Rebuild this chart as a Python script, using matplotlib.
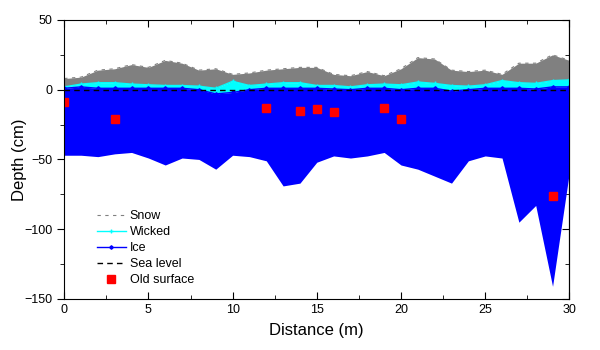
import numpy as np
import matplotlib
matplotlib.use("Agg")
import matplotlib.pyplot as plt

plt.rcParams['font.family'] = ['Liberation Sans', 'DejaVu Sans']

# distance along the transect (m)
dist = np.arange(0, 31)
# layer tops/bottoms (cm)
snow_top = [8, 9, 14, 15, 18, 16, 21, 19, 14, 15, 11, 12, 14, 15, 16, 16,
            11, 10, 13, 10, 15, 23, 22, 14, 13, 14, 11, 19, 19, 25, 21]
wicked_top = [2, 4, 5, 5, 4, 3.5, 3, 3, 2.5, 1, 6, 3, 4, 5, 5, 3,
              3, 2, 3.5, 4, 3.5, 5.5, 4.5, 3, 2.5, 3.5, 6.5, 5, 4.5, 6.5, 7]
ice_top = [1, 2, 1, 1, 1, 1, 1, 1, 0, -3, -2, 0, 1, 1, 1, 1,
           0.5, 0, 1, 1, 0, 1, 1, -1, 0, 1, 1, 1, 0.5, 2, 2]
ice_bottom = [-47, -47, -48, -46, -45, -49, -54, -49, -50, -57, -47, -48, -51, -69, -67, -52,
              -47.5, -49, -47.5, -45, -54, -57, -62, -67, -51, -47.5, -49, -95, -83, -141, -59]

# old surface markers
old_x = [0, 3, 12, 14, 15, 16, 19, 20, 29]
old_y = [-9, -21, -13, -15, -14, -16, -13, -21, -76]

fig = plt.figure(figsize=(6, 3.5), dpi=100)
ax = fig.add_axes([0.107, 0.146, 0.842, 0.797])

ax.fill_between(dist, wicked_top, snow_top, color='#808080', lw=0)
ax.fill_between(dist, ice_top, wicked_top, color='#00ffff', lw=0)
ax.fill_between(dist, ice_bottom, ice_top, color='#0000ff', lw=0)

ax.plot(dist, snow_top, color='#808080', lw=0.8, ls=(0, (3, 4)), label='Snow')
ax.plot(dist, wicked_top, color='#00ffff', lw=1, marker='+', ms=3, label='Wicked')
ax.plot(dist, ice_top, color='#0000ff', lw=1, marker='D', ms=1.8, label='Ice')
ax.axhline(0, color='black', lw=1, ls=(0, (4, 3)), label='Sea level')
ax.plot(old_x, old_y, ls='none', marker='s', ms=5.5, color='#ff0000', label='Old surface')

ax.set_xlim(0, 30)
ax.set_ylim(-150, 50)
ax.set_xticks([0, 5, 10, 15, 20, 25, 30])
ax.set_xticks(np.arange(0, 30.1, 2.5), minor=True)
ax.set_yticks([-150, -100, -50, 0, 50])
ax.set_yticks(np.arange(-150, 51, 25), minor=True)
ax.tick_params(axis='x', which='both', direction='in', top=True, labelsize=9)
ax.tick_params(axis='y', which='both', direction='out', labelsize=9)
ax.tick_params(which='major', length=5)
ax.tick_params(which='minor', length=3)
ax2 = ax.secondary_yaxis('right')
ax2.set_yticks([-150, -100, -50, 0, 50])
ax2.set_yticks(np.arange(-150, 51, 25), minor=True)
ax2.tick_params(which='both', direction='in', labelright=False)
ax2.tick_params(which='major', length=5)
ax2.tick_params(which='minor', length=3)

ax.set_xlabel('Distance (m)', fontsize=12, labelpad=5)
ax.set_ylabel('Depth (cm)', fontsize=12, labelpad=-2)

ax.legend(loc='lower left', bbox_to_anchor=(0.065, 0.045), frameon=False, fontsize=9,
          handlelength=2.3, handletextpad=0.3, labelspacing=0.32, borderaxespad=0,
          borderpad=0)

fig.savefig('out.png', dpi=100)
